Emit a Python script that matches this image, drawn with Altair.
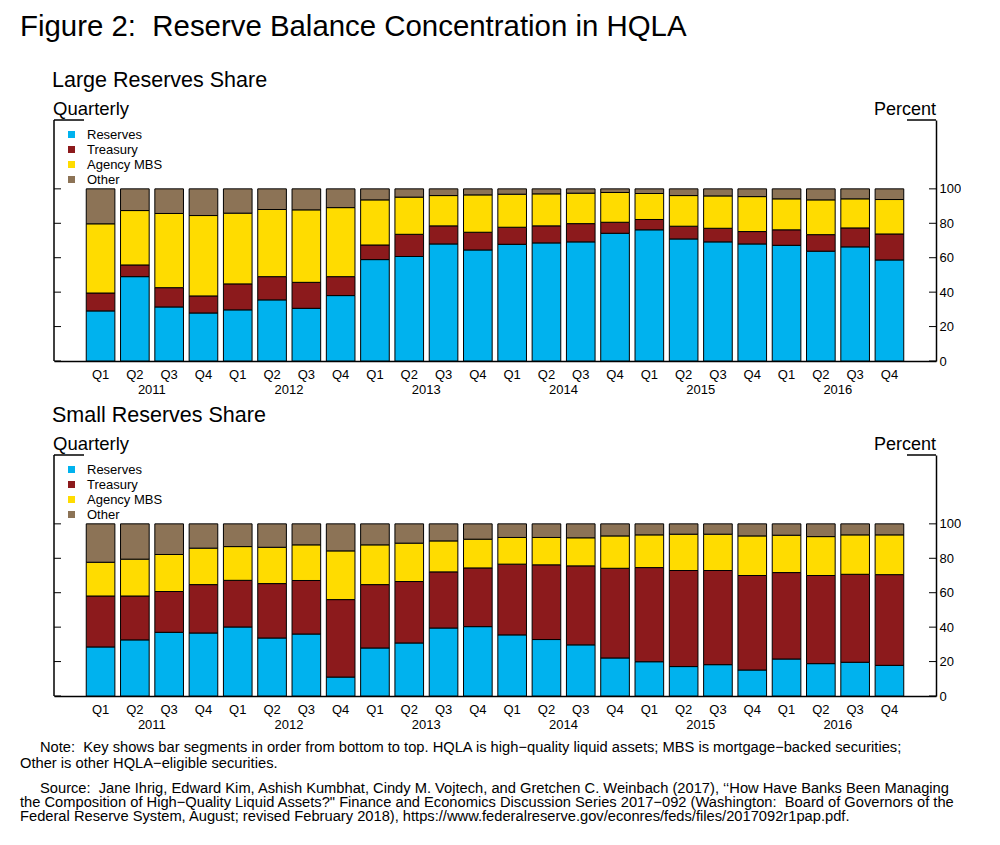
import altair as alt
import pandas as pd

FONT = "Liberation Sans"

years = ["2011", "2012", "2013", "2014", "2015", "2016"]
quarters = ["Q1", "Q2", "Q3", "Q4"]
categories = ["Reserves", "Treasury", "Agency MBS", "Other"]
colors = ["#00B2EE", "#8C1A1C", "#FFDC00", "#8C7356"]
tick_values = [0, 20, 40, 60, 80, 100]

# Large reserves share (percent of HQLA), 2011Q1 .. 2016Q4
large_reserves = [29.1, 49.0, 31.4, 27.9, 29.7, 35.5, 30.6, 38.0, 58.9, 60.7, 68.0, 64.5,
                  67.8, 68.6, 69.2, 74.2, 76.2, 70.9, 69.2, 68.0, 67.2, 63.8, 66.3, 58.7]
large_treasury = [10.4, 6.8, 11.2, 9.9, 15.1, 13.5, 15.1, 11.0, 8.5, 12.9, 10.5, 10.3,
                  9.9, 9.9, 10.6, 6.4, 6.0, 7.4, 7.9, 7.2, 9.0, 9.6, 11.0, 15.1]
large_mbs = [40.2, 31.6, 43.1, 46.7, 41.1, 39.0, 42.1, 40.1, 26.2, 21.6, 17.6, 21.7,
             19.2, 18.6, 17.7, 17.3, 15.1, 17.8, 18.8, 20.3, 18.0, 20.2, 16.9, 20.0]
large_other = [20.3, 12.6, 14.3, 15.5, 14.1, 12.0, 12.2, 10.9, 6.4, 4.8, 3.9, 3.5,
               3.1, 2.9, 2.5, 2.1, 2.7, 3.9, 4.1, 4.5, 5.8, 6.4, 5.8, 6.2]

# Small reserves share
small_reserves = [28.5, 32.6, 37.0, 36.6, 40.1, 33.7, 36.0, 11.0, 27.9, 30.8, 39.5, 40.3,
                  35.5, 32.8, 29.7, 22.1, 19.9, 17.1, 18.2, 15.1, 21.5, 18.8, 19.6, 17.8]
small_treasury = [29.6, 25.5, 23.7, 28.1, 27.1, 31.6, 31.1, 45.0, 36.8, 35.7, 32.6, 34.1,
                  41.1, 43.4, 45.9, 52.1, 54.7, 55.8, 54.7, 54.9, 50.2, 51.2, 51.1, 52.7]
small_mbs = [19.6, 21.4, 21.5, 21.2, 19.6, 21.1, 20.7, 28.3, 23.1, 22.3, 18.0, 16.7,
             15.5, 15.9, 16.3, 18.8, 19.0, 21.1, 21.1, 23.0, 21.7, 22.6, 22.9, 23.1]
small_other = [22.3, 20.5, 17.8, 14.1, 13.2, 13.6, 12.2, 15.7, 12.2, 11.2, 9.9, 8.9,
               7.9, 7.9, 8.1, 7.0, 6.4, 6.0, 6.0, 7.0, 6.6, 7.4, 6.4, 6.4]

NB2 = "\u00a0 "
title_text = "Figure 2:" + NB2 + "Reserve Balance Concentration in HQLA"
panel_titles = ["Large Reserves Share", "Small Reserves Share"]
note_lines = [
    "Note:" + NB2 + "Key shows bar segments in order from bottom to top. HQLA is high\u2212quality liquid assets; MBS is mortgage\u2212backed securities;",
    "Other is other HQLA\u2212eligible securities.",
]
source_lines = [
    "Source:" + NB2 + "Jane Ihrig, Edward Kim, Ashish Kumbhat, Cindy M. Vojtech, and Gretchen C. Weinbach (2017), \u2018\u2018How Have Banks Been Managing",
    "the Composition of High\u2212Quality Liquid Assets?\" Finance and Economics Discussion Series 2017\u2212092 (Washington:" + NB2 + "Board of Governors of the",
    "Federal Reserve System, August; revised February 2018), https://www.federalreserve.gov/econres/feds/files/2017092r1pap.pdf.",
]

periods = [f"{y} {q}" for y in years for q in quarters]

W, H = 882, 241


def long_df(series):
    rows = []
    for i, p in enumerate(periods):
        for k, (cat, vals) in enumerate(zip(categories, series)):
            rows.append({"period": p, "category": cat, "k": k, "value": vals[i]})
    return pd.DataFrame(rows)


x_scale = alt.Scale(domain=periods, paddingInner=0.165, paddingOuter=0.94)
y_scale = alt.Scale(domain=[0, 140], nice=False)
x_axis = alt.Axis(labelExpr="split(datum.value, ' ')[1]", ticks=False,
                  domainColor="black", domainWidth=1.5, labelAngle=0,
                  labelFontSize=13, labelPadding=7, labelColor="black",
                  labelFont=FONT, grid=False, title=None)
y_axis = alt.Axis(orient="right", values=tick_values, ticks=False, grid=False,
                  domainColor="black", domainWidth=1.5, labelPadding=3,
                  labelFontSize=13, labelColor="black", labelFont=FONT, title=None)
one = pd.DataFrame({"a": [0]})
ticks_df = pd.DataFrame({"v": tick_values})
years_df = pd.DataFrame({"year": years, "key": [f"{y} Q2" for y in years]})


def panel(series, idx):
    df = long_df(series)
    bars = alt.Chart(df).mark_bar(stroke="black", strokeWidth=1).encode(
        x=alt.X("period:N", scale=x_scale, sort=periods, title=None, axis=x_axis),
        y=alt.Y("value:Q", stack="zero", scale=y_scale, title=None, axis=y_axis),
        color=alt.Color("category:N", scale=alt.Scale(domain=categories, range=colors),
                        legend=alt.Legend(title=None, orient="none", legendX=11, legendY=8,
                                          symbolType="square", symbolSize=49,
                                          symbolStrokeWidth=0, labelFontSize=13,
                                          labelFont=FONT, labelColor="black",
                                          labelOffset=9, rowPadding=1, padding=0)),
        order=alt.Order("k:Q", sort="ascending"),
    )
    lt = alt.Chart(ticks_df).mark_rule(color="black", strokeWidth=1).encode(
        y=alt.Y("v:Q", scale=y_scale, axis=y_axis, title=None), x=alt.value(0), x2=alt.value(7))
    rt = alt.Chart(ticks_df).mark_rule(color="black", strokeWidth=1).encode(
        y=alt.Y("v:Q", scale=y_scale, axis=y_axis, title=None), x=alt.value(W - 7), x2=alt.value(W))
    left_line = alt.Chart(one).mark_rule(color="black", strokeWidth=1.5).encode(
        x=alt.value(0), y=alt.value(0), y2=alt.value(H))
    stub_l = alt.Chart(one).mark_rule(color="black", strokeWidth=1.5).encode(
        x=alt.value(0), x2=alt.value(30), y=alt.value(0))
    stub_r = alt.Chart(one).mark_rule(color="black", strokeWidth=1.5).encode(
        x=alt.value(W - 29), x2=alt.value(W), y=alt.value(0))
    quarterly = alt.Chart(one).mark_text(align="left", baseline="alphabetic", fontSize=18.5,
                                         font=FONT, color="black").encode(
        x=alt.value(-1), y=alt.value(-5), text=alt.value("Quarterly"))
    percent = alt.Chart(one).mark_text(align="right", baseline="alphabetic", fontSize=18,
                                       font=FONT, color="black").encode(
        x=alt.value(W), y=alt.value(-5), text=alt.value("Percent"))
    yrs = alt.Chart(years_df).mark_text(baseline="middle", fontSize=13, font=FONT,
                                        color="black", dx=17).encode(
        x=alt.X("key:N", scale=x_scale, axis=x_axis, title=None), y=alt.value(H + 29), text="year:N")
    return alt.layer(bars, lt, rt, left_line, stub_l, stub_r, quarterly, percent, yrs).properties(
        width=W, height=H,
        title=alt.TitleParams(panel_titles[idx], anchor="start", frame="group", fontSize=21.5,
                              font=FONT, fontWeight="normal", color="black", offset=9, dx=-2))


notes_layers = []
note_pos = [(-14, 12), (-34, 28)]
for line, (xx, yy) in zip(note_lines, note_pos):
    notes_layers.append(alt.Chart(one).mark_text(align="left", baseline="middle", fontSize=14.7,
                                                 font=FONT, color="black").encode(
        x=alt.value(xx), y=alt.value(yy), text=alt.value(line)))
source_pos = [(-14, 53), (-34, 67), (-34, 81)]
for line, (xx, yy) in zip(source_lines, source_pos):
    notes_layers.append(alt.Chart(one).mark_text(align="left", baseline="middle", fontSize=14.7,
                                                 font=FONT, color="black").encode(
        x=alt.value(xx), y=alt.value(yy), text=alt.value(line)))
notes = alt.layer(*notes_layers).properties(width=W, height=90)

panels = alt.vconcat(panel([large_reserves, large_treasury, large_mbs, large_other], 0),
                     panel([small_reserves, small_treasury, small_mbs, small_other], 1),
                     spacing=7).resolve_legend(color="independent")

chart = alt.vconcat(panels, notes, spacing=4).resolve_legend(color="independent").properties(
    title=alt.TitleParams(title_text, anchor="start", fontSize=29.4, font=FONT,
                          fontWeight="normal", color="black", offset=27),
    padding={"left": 12, "top": 4, "right": 0, "bottom": 0},
).configure_view(stroke=None)

chart.save("out.html", embed_options={"renderer": "svg", "actions": False})
